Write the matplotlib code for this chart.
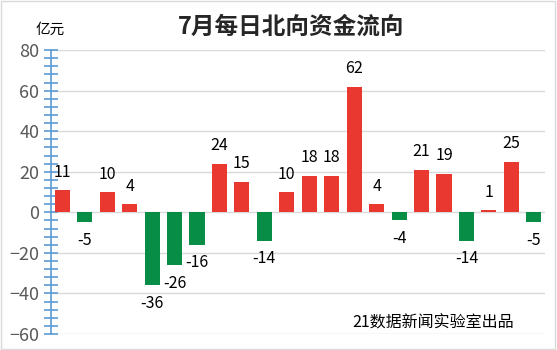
import matplotlib.pyplot as plt
import numpy as np
from matplotlib.ticker import MultipleLocator

plt.rcParams['font.family'] = ['Noto Sans CJK SC', 'DejaVu Sans']

# daily northbound flow in July (100 million yuan)
days = list(range(1, 23))
flows = [11, -5, 10, 4, -36, -26, -16, 24, 15, -14, 10, 18, 18, 62, 4, -4, 21, 19, -14, 1, 25, -5]
yticks = [80, 60, 40, 20, 0, -20, -40, -60]

red = '#E8382F'
green = '#078D46'

fig = plt.figure(figsize=(5.57, 3.5), dpi=100)
ax = fig.add_axes([0.0916, 0.0457, 0.887, 0.811])

x = np.arange(len(flows))
colors = [red if v >= 0 else green for v in flows]
ax.bar(x, flows, width=0.67, color=colors, zorder=3)

# data labels above/below bars
for xi, v in zip(x, flows):
    off = 18 if v >= 0 else -18
    ax.annotate(str(v), (xi, v), xytext=(0, off), textcoords='offset pixels',
                ha='center', va='center', fontsize=11.5, color='black')

ax.set_xlim(-0.5, len(flows) - 0.5)
ax.set_ylim(-60, 80)
ax.set_yticks(yticks)
ax.yaxis.set_minor_locator(MultipleLocator(4))
ax.set_xticks([])
ax.grid(axis='y', color='#D9D9D9', linewidth=1, zorder=0)

for s in ['top', 'right', 'bottom']:
    ax.spines[s].set_visible(False)
ax.spines['left'].set_color('#5B9BD5')
ax.spines['left'].set_linewidth(1.2)
ax.tick_params(axis='y', which='both', direction='inout', color='#5B9BD5', labelcolor='#595959', labelsize=13)
ax.tick_params(axis='y', which='major', length=10, width=1.2)
ax.tick_params(axis='y', which='minor', length=10, width=1.2)

fig.text(0.523, 0.925, '7月每日北向资金流向', ha='center', va='center', fontsize=17,
         fontweight='bold', color='#262626')
fig.text(0.09, 0.915, '亿元', ha='center', va='center', fontsize=10.5, color='black')
fig.text(0.777, 0.077, '21数据新闻实验室出品', ha='center', va='center', fontsize=11.5, color='black')

# light border around the chart area
fig.patches.append(plt.Rectangle((0.002, 0.003), 0.995, 0.994, transform=fig.transFigure,
                                 fill=False, edgecolor='#D9D9D9', linewidth=1))

fig.savefig('out.png', dpi=100)
